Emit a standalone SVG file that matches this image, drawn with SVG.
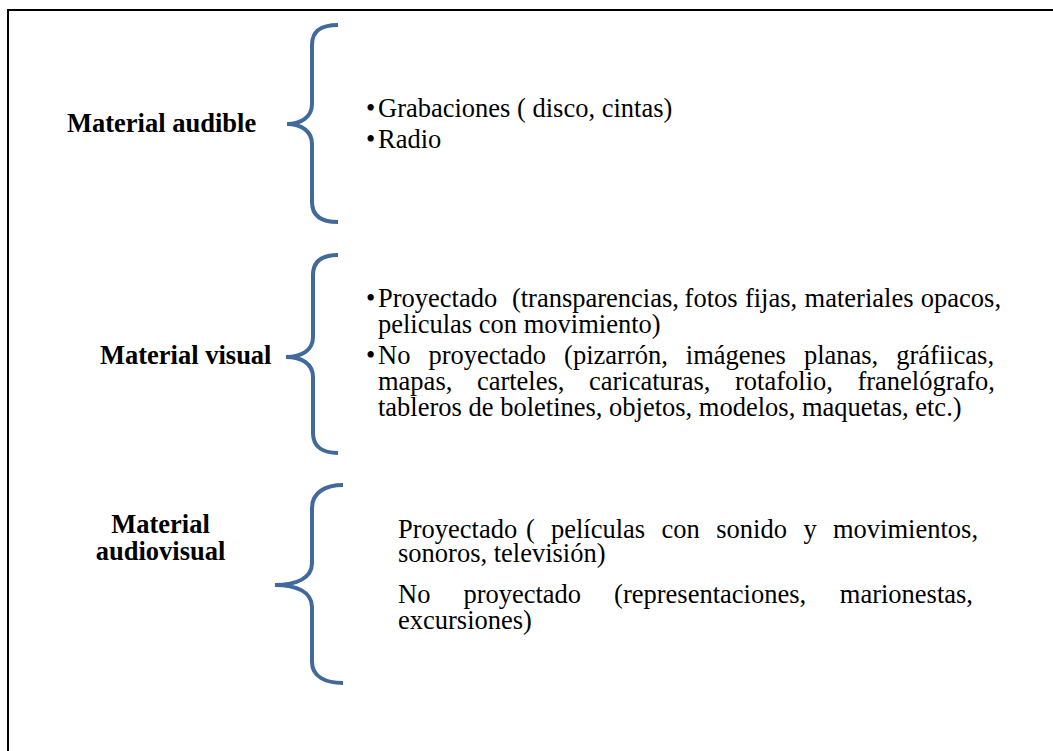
<svg xmlns="http://www.w3.org/2000/svg" width="1053" height="751" viewBox="0 0 1053 751">
<style>
.t{font-family:"Liberation Serif","Times New Roman",serif;font-size:26.5px;fill:#000}
.b{font-family:"Liberation Serif","Times New Roman",serif;font-size:26.5px;font-weight:bold;fill:#000}
.br{fill:none;stroke:#41699C;stroke-width:4;stroke-linecap:butt}
</style>
<rect width="1053" height="751" fill="#fff"/>
<path d="M8,751 V10 H1053" fill="none" stroke="#000" stroke-width="2"/>

<g id="audible">
<text class="b" x="67" y="132">Material audible</text>
</g>
<g id="visual">
<text class="b" x="100" y="364">Material visual</text>
</g>
<g id="audiovisual">
<text class="b" x="160.5" y="533" text-anchor="middle">Material</text>
<text class="b" x="160.5" y="560" text-anchor="middle">audiovisual</text>
</g>

<g id="connectors">
<path class="br" d="M338,25 C322,25 312,30 312,45 L312,104 C312,117 301,124 287,124 C301,124 312,131 312,144 L312,202 C312,216 322,222 338,222"/>
<path class="br" d="M338,255 C323,255 313,260 313,275 L313,337 C313,350 302,357 286,357 C302,357 313,364 313,377 L313,433 C313,447 323,453 338,453"/>
<path class="br" d="M343,485 C326,485 312,492 312,508 L312,563 C312,578 297,585 275,585 C297,585 312,592 312,607 L312,662 C312,677 326,683 343,683"/>
</g>

<g id="audible-items">
<text class="t" x="366" y="117">•</text>
<text class="t" x="378" y="117">Grabaciones ( disco, cintas)</text>
<text class="t" x="366" y="148">•</text>
<text class="t" x="378" y="148">Radio</text>
</g>

<g id="visual-items">
<text class="t" x="366" y="307">•</text>
<text class="t" y="307"><tspan x="378">Proyectado</tspan><tspan x="511.9">(transparencias,</tspan><tspan x="684.6">fotos</tspan><tspan x="744.9">fijas,</tspan><tspan x="804.6">materiales</tspan><tspan x="920.8">opacos,</tspan></text>
<text class="t" x="378" y="333">peliculas con movimiento)</text>
<text class="t" x="366" y="364">•</text>
<text class="t" y="364"><tspan x="378">No</tspan><tspan x="428.4">proyectado</tspan><tspan x="564.1">(pizarrón,</tspan><tspan x="685.8">imágenes</tspan><tspan x="803.9">planas,</tspan><tspan x="896.2">gráfiicas,</tspan></text>
<text class="t" y="390"><tspan x="378">mapas,</tspan><tspan x="476.9">carteles,</tspan><tspan x="589">caricaturas,</tspan><tspan x="735">rotafolio,</tspan><tspan x="857.4">franelógrafo,</tspan></text>
<text class="t" x="378" y="416">tableros de boletines, objetos, modelos, maquetas, etc.)</text>
</g>

<g id="audiovisual-items">
<text class="t" y="538"><tspan x="398">Proyectado</tspan><tspan x="526">(</tspan><tspan x="551">películas</tspan><tspan x="661.5">con</tspan><tspan x="716.3">sonido</tspan><tspan x="803.5">y</tspan><tspan x="833">movimientos,</tspan></text>
<text class="t" x="398" y="562">sonoros, televisión)</text>
<text class="t" y="603"><tspan x="398">No</tspan><tspan x="463.4">proyectado</tspan><tspan x="614.1">(representaciones,</tspan><tspan x="839.8">marionestas,</tspan></text>
<text class="t" x="398" y="629">excursiones)</text>
</g>
</svg>
